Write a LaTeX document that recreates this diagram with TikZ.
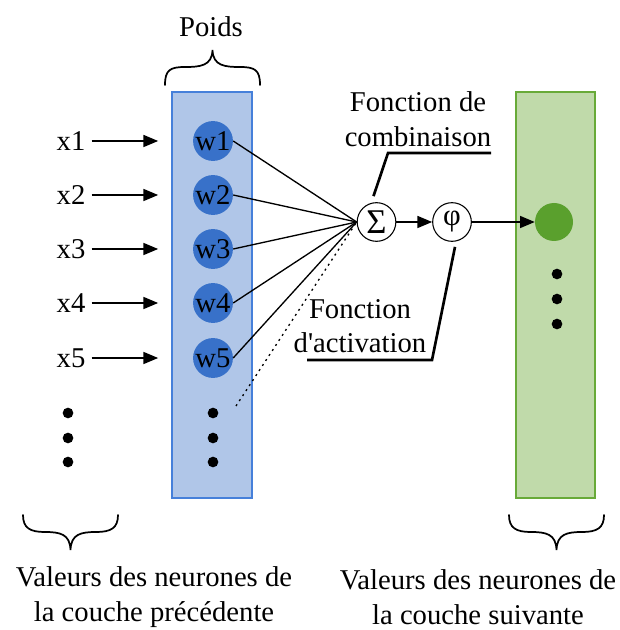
\documentclass[tikz,border=0pt]{standalone}
\usepackage{fontspec}
\setmainfont{Liberation Serif}
\usetikzlibrary{arrows.meta}
\definecolor{bluefill}{RGB}{176,198,232}
\definecolor{blueline}{RGB}{70,128,218}
\definecolor{bluenode}{RGB}{56,113,201}
\definecolor{greenfill}{RGB}{192,218,170}
\definecolor{greenline}{RGB}{104,170,56}
\definecolor{greennode}{RGB}{90,160,45}
\begin{document}
\begin{tikzpicture}[x=0.75pt,y=-0.75pt,
  txt/.style={font=\fontsize{21.5}{26}\selectfont, inner sep=0pt},
  wnode/.style={circle, fill=bluenode, minimum size=28.5pt, inner sep=0pt, font=\fontsize{21.5}{26}\selectfont},
  bdot/.style={circle, fill=black, minimum size=8pt, inner sep=0pt},
  op/.style={circle, draw, line width=0.8pt, minimum size=29pt, inner sep=0pt, font=\fontsize{23}{26}\selectfont},
  arr/.style={-{Triangle[length=11pt,width=9pt]}, line width=1pt},
  wline/.style={line width=1pt},
  pointer/.style={line width=2pt},
  bracestyle/.style={line width=1.3pt, line cap=round}
]
\useasboundingbox (0,0) rectangle (619,630);

% layers
\node[draw=blueline, fill=bluefill, line width=1pt, minimum width=60pt, minimum height=304.5pt, inner sep=0pt] (inrect) at (212,295) {};
\node[draw=greenline, fill=greenfill, line width=1pt, minimum width=59.25pt, minimum height=304.5pt, inner sep=0pt] (outrect) at (555.5,295) {};

% weight nodes
\foreach \i/\y in {1/141,2/195,3/249,4/303,5/358}{
  \node[wnode] (w\i) at (213,\y) {w\i};
  \node[txt] (x\i) at (71,\y) {x\i};
  \draw[arr, shorten >=26pt] (x\i.east) ++(6,0) coordinate (s\i) -- (w\i.west);
}
\foreach \i/\y in {1/413,2/438,3/462}{
  \node[bdot] (ld\i) at (68,\y) {};
  \node[bdot] (md\i) at (213,\y) {};
}
\foreach \i/\y in {1/274,2/299,3/324}{
  \node[bdot] (rd\i) at (557,\y) {};
}

% operators
\node[op] (sum) at (376.5,222) {\fontsize{26}{26}\selectfont Σ};
\node[op] (phi) at (452,222) {φ};
\node[circle, fill=greennode, minimum size=28.5pt, inner sep=0pt] (out) at (554,222) {};

\foreach \i in {1,...,5}{
  \draw[wline] (w\i.east) -- (sum.west);
}
\coordinate (dend) at (236,406);
\draw[line width=1pt, dash pattern=on 1.5pt off 3pt] (dend) -- (sum.west);

\draw[arr] (sum.east) -- (phi.west);
\draw[arr] (phi.east) -- (out.west);

% labels
\node[txt] (poids) at (211,27) {Poids};
\node[txt, align=center] (comb) at (418,119) {Fonction de\\combinaison};
\node[txt, align=center] (act) at (360,326) {Fonction\\d\textquotesingle activation};

\coordinate (cb1) at (388,153);
\coordinate (cb2) at (491,153);
\draw[pointer] (sum.north) ++(-3,-6) coordinate (cb0) -- (cb1) -- (cb2);
\coordinate (ac1) at (432,360);
\coordinate (ac2) at (307,360);
\draw[pointer] (phi.south) ++(3,5) coordinate (ac0) -- (ac1) -- (ac2);

% braces
\draw[bracestyle] (165,85) .. controls (165,70) and (170,67) .. (185,67) .. controls (200,67) and (212,66) .. (212.5,50) .. controls (213,66) and (225,67) .. (240,67) .. controls (255,67) and (260,70) .. (260,85);
\draw[bracestyle] (23,515) .. controls (23,528) and (30,532) .. (45,532) .. controls (60,532) and (70,534) .. (70.5,550) .. controls (71,534) and (81,532) .. (96,532) .. controls (111,532) and (118,528) .. (118,515);
\draw[bracestyle] (509,515) .. controls (509,528) and (516,532) .. (531,532) .. controls (546,532) and (556,534) .. (556.5,550) .. controls (557,534) and (567,532) .. (582,532) .. controls (597,532) and (604,528) .. (604,515);

\node[txt, align=center] (prev) at (154,597) {Valeurs des neurones de\\la couche précédente};
\node[txt, align=center] (next) at (478,597) {Valeurs des neurones de\\la couche suivante};
\end{tikzpicture}
\end{document}
